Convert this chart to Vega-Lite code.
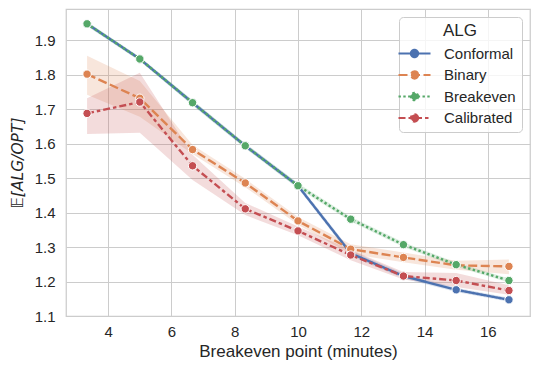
{
  "$schema": "https://vega.github.io/schema/vega-lite/v6.json",
  "width": 464,
  "height": 307,
  "autosize": {"type": "none"},
  "padding": {"left": 66, "top": 9, "right": 10, "bottom": 59},
  "background": "white",
  "config": {
    "font": "Liberation Sans",
    "view": {"stroke": "#cccccc", "strokeWidth": 1.25},
    "axis": {
      "grid": true, "gridColor": "#cccccc", "gridWidth": 1,
      "domain": false, "ticks": false,
      "labelFont": "Liberation Sans", "labelFontSize": 15, "labelColor": "#262626",
      "titleFont": "Liberation Sans", "titleFontSize": 17, "titleColor": "#262626", "titleFontWeight": "normal"
    },
    "legend": {
      "labelFont": "Liberation Sans", "labelFontSize": 15, "labelColor": "#262626",
      "titleFont": "Liberation Sans", "titleFontSize": 17, "titleColor": "#262626", "titleFontWeight": "normal"
    }
  },
  "data": {"values": [
    {"alg": "Conformal", "x": 3.333, "y": 1.948, "lo": 1.942, "hi": 1.954},
    {"alg": "Conformal", "x": 5.0, "y": 1.846, "lo": 1.840, "hi": 1.852},
    {"alg": "Conformal", "x": 6.667, "y": 1.719, "lo": 1.712, "hi": 1.726},
    {"alg": "Conformal", "x": 8.333, "y": 1.594, "lo": 1.587, "hi": 1.601},
    {"alg": "Conformal", "x": 10.0, "y": 1.478, "lo": 1.471, "hi": 1.485},
    {"alg": "Conformal", "x": 11.667, "y": 1.282, "lo": 1.274, "hi": 1.290},
    {"alg": "Conformal", "x": 13.333, "y": 1.216, "lo": 1.209, "hi": 1.223},
    {"alg": "Conformal", "x": 15.0, "y": 1.176, "lo": 1.170, "hi": 1.182},
    {"alg": "Conformal", "x": 16.667, "y": 1.147, "lo": 1.141, "hi": 1.153},
    {"alg": "Binary", "x": 3.333, "y": 1.802, "lo": 1.742, "hi": 1.855},
    {"alg": "Binary", "x": 5.0, "y": 1.732, "lo": 1.678, "hi": 1.782},
    {"alg": "Binary", "x": 6.667, "y": 1.583, "lo": 1.570, "hi": 1.596},
    {"alg": "Binary", "x": 8.333, "y": 1.486, "lo": 1.474, "hi": 1.498},
    {"alg": "Binary", "x": 10.0, "y": 1.376, "lo": 1.365, "hi": 1.387},
    {"alg": "Binary", "x": 11.667, "y": 1.294, "lo": 1.280, "hi": 1.308},
    {"alg": "Binary", "x": 13.333, "y": 1.270, "lo": 1.256, "hi": 1.284},
    {"alg": "Binary", "x": 15.0, "y": 1.247, "lo": 1.234, "hi": 1.260},
    {"alg": "Binary", "x": 16.667, "y": 1.244, "lo": 1.221, "hi": 1.264},
    {"alg": "Breakeven", "x": 3.333, "y": 1.948, "lo": 1.942, "hi": 1.954},
    {"alg": "Breakeven", "x": 5.0, "y": 1.846, "lo": 1.840, "hi": 1.852},
    {"alg": "Breakeven", "x": 6.667, "y": 1.719, "lo": 1.712, "hi": 1.726},
    {"alg": "Breakeven", "x": 8.333, "y": 1.594, "lo": 1.587, "hi": 1.601},
    {"alg": "Breakeven", "x": 10.0, "y": 1.478, "lo": 1.471, "hi": 1.485},
    {"alg": "Breakeven", "x": 11.667, "y": 1.381, "lo": 1.374, "hi": 1.388},
    {"alg": "Breakeven", "x": 13.333, "y": 1.307, "lo": 1.300, "hi": 1.314},
    {"alg": "Breakeven", "x": 15.0, "y": 1.249, "lo": 1.243, "hi": 1.255},
    {"alg": "Breakeven", "x": 16.667, "y": 1.203, "lo": 1.197, "hi": 1.209},
    {"alg": "Calibrated", "x": 3.333, "y": 1.688, "lo": 1.628, "hi": 1.732},
    {"alg": "Calibrated", "x": 5.0, "y": 1.721, "lo": 1.632, "hi": 1.806},
    {"alg": "Calibrated", "x": 6.667, "y": 1.536, "lo": 1.495, "hi": 1.568},
    {"alg": "Calibrated", "x": 8.333, "y": 1.411, "lo": 1.393, "hi": 1.428},
    {"alg": "Calibrated", "x": 10.0, "y": 1.347, "lo": 1.334, "hi": 1.360},
    {"alg": "Calibrated", "x": 11.667, "y": 1.277, "lo": 1.262, "hi": 1.292},
    {"alg": "Calibrated", "x": 13.333, "y": 1.216, "lo": 1.206, "hi": 1.228},
    {"alg": "Calibrated", "x": 15.0, "y": 1.203, "lo": 1.184, "hi": 1.225},
    {"alg": "Calibrated", "x": 16.667, "y": 1.174, "lo": 1.162, "hi": 1.189}
  ]},
  "encoding": {
    "x": {"field": "x", "type": "quantitative", "title": "Breakeven point (minutes)",
          "scale": {"domain": [2.667, 17.333], "nice": false, "zero": false},
          "axis": {"values": [4, 6, 8, 10, 12, 14, 16], "labelPadding": 8, "titlePadding": 4}},
    "y": {"field": "y", "type": "quantitative", "title": "𝔼[ALG/OPT]",
          "scale": {"domain": [1.1, 1.991], "nice": false, "zero": false},
          "axis": {"values": [1.1, 1.2, 1.3, 1.4, 1.5, 1.6, 1.7, 1.8, 1.9], "format": ".1f", "labelPadding": 11, "titlePadding": 9, "titleFontStyle": "italic", "titleFont": "DejaVu Sans", "titleFontSize": 15.5}},
    "color": {"field": "alg", "type": "nominal", "title": "ALG",
              "scale": {"domain": ["Conformal", "Binary", "Breakeven", "Calibrated"], "range": ["#4c72b0", "#dd8452", "#55a868", "#c44e52"]},
              "legend": {
                "orient": "top-right", "offset": 8, "padding": 6, "rowPadding": 3.5,
                "titleAnchor": "middle", "titlePadding": 4,
                "strokeColor": "#cccccc", "cornerRadius": 4, "fillColor": "rgba(255,255,255,0.8)",
                "symbolType": "M-2,0H2M0.45,0A0.45,0.45,0,1,1,-0.45,0A0.45,0.45,0,1,1,0.45,0Z",
                "symbolSize": 256, "symbolStrokeWidth": 2.2, "labelOffset": 20,
                "encode": {"symbols": {"update": {"fill": {"scale": "color", "field": "value"}, "fillOpacity": {"value": 1}, "opacity": {"value": 1}}}}
              }}
  },
  "layer": [
    {
      "mark": {"type": "area", "fillOpacity": 0.2},
      "encoding": {
        "y": {"field": "lo", "type": "quantitative"},
        "y2": {"field": "hi"}
      }
    },
    {
      "mark": {"type": "line", "strokeWidth": 2.4},
      "encoding": {
        "strokeDash": {"field": "alg", "type": "nominal", "title": "ALG",
                  "scale": {"domain": ["Conformal", "Binary", "Breakeven", "Calibrated"], "range": [[1, 0], [9, 3.5], [2.4, 2.4], [7, 3, 3.5, 3]]},
                  "legend": {
                    "orient": "top-right", "offset": 8, "padding": 6, "rowPadding": 3.5,
                    "titleAnchor": "middle", "titlePadding": 4,
                    "strokeColor": "#cccccc", "cornerRadius": 4, "fillColor": "rgba(255,255,255,0.8)",
                    "symbolType": "M-2,0H2M0.45,0A0.45,0.45,0,1,1,-0.45,0A0.45,0.45,0,1,1,0.45,0Z",
                    "symbolSize": 256, "symbolStrokeWidth": 2.2, "labelOffset": 20
                  }}
      }
    },
    {
      "mark": {"type": "point", "filled": true, "size": 70, "opacity": 1, "stroke": "white", "strokeWidth": 1}
    }
  ]
}
